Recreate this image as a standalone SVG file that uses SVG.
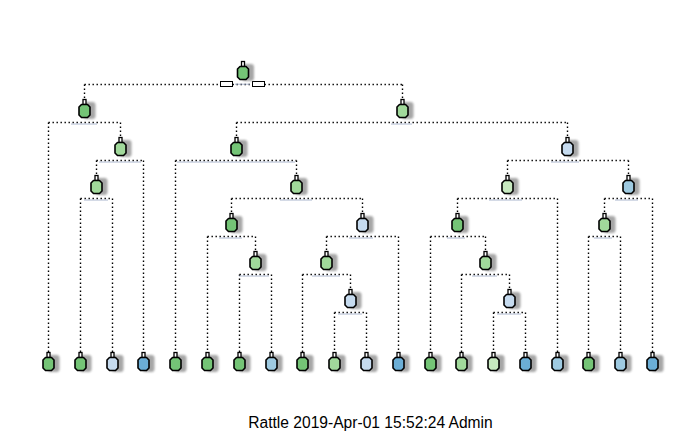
<svg xmlns="http://www.w3.org/2000/svg" xmlns:xlink="http://www.w3.org/1999/xlink" width="700" height="432" viewBox="0 0 700 432">
<style>
.edge{fill:none;stroke:#000;stroke-width:1.4;stroke-dasharray:1.4 2.6}
.g1{fill:#74C476}.g2{fill:#A1D99B}.g3{fill:#C7E9C0}
.b1{fill:#6BAED6}.b2{fill:#9ECAE1}.b3{fill:#C6DBEF}
.lbl{fill:#9aa6c4;opacity:.6}
.box{fill:#fff;stroke:#000;stroke-width:1}
.cap{font-family:"Liberation Sans",Arial,sans-serif;font-size:15.6px;fill:#000}
</style>
<defs>
<filter id="blur" x="-50%" y="-50%" width="200%" height="200%"><feGaussianBlur stdDeviation="1.3"/></filter>
<g id="node">
<rect x="-1" y="3" width="12" height="17" rx="3" fill="#777" opacity=".65" filter="url(#blur)"/>
<rect x="-1.5" y="0.5" width="3" height="5" fill="#fff" stroke="#000" stroke-width="1.3"/>
<path d="M-3 5.5H3L5.5 8V16L3 18.5H-3L-5.5 16V8Z" stroke="#000" stroke-width="1.6" stroke-linejoin="round"/>
</g>
</defs>
<rect width="700" height="432" fill="#fff"/>
<g id="connectors">
<path class="edge" d="M84.5 84.5H402.5M84.5 84.5V99M402.5 84.5V99"/>
<path class="edge" d="M48.5 122.5H120.5M48.5 122.5V352M120.5 122.5V137"/>
<path class="edge" d="M96.5 160.5H143.5M96.5 160.5V175M143.5 160.5V352"/>
<path class="edge" d="M80.5 198.5H112.5M80.5 198.5V352M112.5 198.5V352"/>
<path class="edge" d="M236.5 122.5H567.5M236.5 122.5V137M567.5 122.5V137"/>
<path class="edge" d="M175.5 160.5H296.5M175.5 160.5V352M296.5 160.5V175"/>
<path class="edge" d="M231.5 198.5H362.5M231.5 198.5V213M362.5 198.5V213"/>
<path class="edge" d="M207.5 236.5H255.5M207.5 236.5V352M255.5 236.5V251"/>
<path class="edge" d="M239.5 274.5H271.5M239.5 274.5V352M271.5 274.5V352"/>
<path class="edge" d="M326.5 236.5H398.5M326.5 236.5V251M398.5 236.5V352"/>
<path class="edge" d="M302.5 274.5H350.5M302.5 274.5V352M350.5 274.5V289"/>
<path class="edge" d="M334.5 312.5H366.5M334.5 312.5V352M366.5 312.5V352"/>
<path class="edge" d="M507.5 160.5H628.5M507.5 160.5V175M628.5 160.5V175"/>
<path class="edge" d="M457.5 198.5H557.5M457.5 198.5V213M557.5 198.5V352"/>
<path class="edge" d="M430.5 236.5H485.5M430.5 236.5V352M485.5 236.5V251"/>
<path class="edge" d="M461.5 274.5H509.5M461.5 274.5V352M509.5 274.5V289"/>
<path class="edge" d="M493.5 312.5H525.5M493.5 312.5V352M525.5 312.5V352"/>
<path class="edge" d="M604.5 198.5H652.5M604.5 198.5V213M652.5 198.5V352"/>
<path class="edge" d="M588.5 236.5H620.5M588.5 236.5V352M620.5 236.5V352"/>
<rect class="box" x="220.5" y="81.5" width="12" height="5"/>
<rect class="box" x="252.5" y="81.5" width="12" height="5"/>
<g id="split-labels">
<rect class="lbl" x="235" y="83.6" width="15" height="1.3"/>
<rect class="lbl" x="71" y="123.4" width="26" height="1.3"/>
<rect class="lbl" x="391" y="123.4" width="21" height="1.3"/>
<rect class="lbl" x="99" y="161.4" width="42" height="1.3"/>
<rect class="lbl" x="177" y="161.4" width="118" height="1.3"/>
<rect class="lbl" x="551" y="161.4" width="28" height="1.3"/>
<rect class="lbl" x="84" y="199.4" width="24" height="1.3"/>
<rect class="lbl" x="280" y="199.4" width="32" height="1.3"/>
<rect class="lbl" x="489" y="199.4" width="33" height="1.3"/>
<rect class="lbl" x="615" y="199.4" width="23" height="1.3"/>
<rect class="lbl" x="219" y="237.4" width="23" height="1.3"/>
<rect class="lbl" x="349" y="237.4" width="24" height="1.3"/>
<rect class="lbl" x="447" y="237.4" width="18" height="1.3"/>
<rect class="lbl" x="594" y="237.4" width="18" height="1.3"/>
<rect class="lbl" x="239" y="275.4" width="30" height="1.3"/>
<rect class="lbl" x="312" y="275.4" width="28" height="1.3"/>
<rect class="lbl" x="472" y="275.4" width="25" height="1.3"/>
<rect class="lbl" x="338" y="313.4" width="24" height="1.3"/>
<rect class="lbl" x="497" y="313.4" width="24" height="1.3"/>
</g>
</g>
<g id="n-root"><use xlink:href="#node" href="#node" class="g1" transform="translate(243,61)"/></g>
<g id="n-A"><use xlink:href="#node" href="#node" class="g1" transform="translate(84.5,99)"/></g>
<g id="n-B"><use xlink:href="#node" href="#node" class="g2" transform="translate(402.5,99)"/></g>
<g id="n-C"><use xlink:href="#node" href="#node" class="g2" transform="translate(120.5,137)"/></g>
<g id="n-D"><use xlink:href="#node" href="#node" class="g2" transform="translate(96.5,175)"/></g>
<g id="n-E"><use xlink:href="#node" href="#node" class="g1" transform="translate(236.5,137)"/></g>
<g id="n-F"><use xlink:href="#node" href="#node" class="b3" transform="translate(567.5,137)"/></g>
<g id="n-G"><use xlink:href="#node" href="#node" class="g2" transform="translate(296.5,175)"/></g>
<g id="n-H"><use xlink:href="#node" href="#node" class="g1" transform="translate(231.5,213)"/></g>
<g id="n-I"><use xlink:href="#node" href="#node" class="b3" transform="translate(362.5,213)"/></g>
<g id="n-J"><use xlink:href="#node" href="#node" class="g2" transform="translate(255.5,251)"/></g>
<g id="n-K"><use xlink:href="#node" href="#node" class="g2" transform="translate(326.5,251)"/></g>
<g id="n-L"><use xlink:href="#node" href="#node" class="b3" transform="translate(350.5,289)"/></g>
<g id="n-M"><use xlink:href="#node" href="#node" class="g3" transform="translate(507.5,175)"/></g>
<g id="n-N"><use xlink:href="#node" href="#node" class="b2" transform="translate(628.5,175)"/></g>
<g id="n-O"><use xlink:href="#node" href="#node" class="g1" transform="translate(457.5,213)"/></g>
<g id="n-P"><use xlink:href="#node" href="#node" class="g2" transform="translate(485.5,251)"/></g>
<g id="n-Q"><use xlink:href="#node" href="#node" class="b3" transform="translate(509.5,289)"/></g>
<g id="n-R"><use xlink:href="#node" href="#node" class="g2" transform="translate(604.5,213)"/></g>
<g id="leaf-1"><use xlink:href="#node" href="#node" class="g1" transform="translate(48.5,352)"/></g>
<g id="leaf-2"><use xlink:href="#node" href="#node" class="g1" transform="translate(80.5,352)"/></g>
<g id="leaf-3"><use xlink:href="#node" href="#node" class="b3" transform="translate(112.5,352)"/></g>
<g id="leaf-4"><use xlink:href="#node" href="#node" class="b1" transform="translate(143.5,352)"/></g>
<g id="leaf-5"><use xlink:href="#node" href="#node" class="g1" transform="translate(175.5,352)"/></g>
<g id="leaf-6"><use xlink:href="#node" href="#node" class="g1" transform="translate(207.5,352)"/></g>
<g id="leaf-7"><use xlink:href="#node" href="#node" class="g1" transform="translate(239.5,352)"/></g>
<g id="leaf-8"><use xlink:href="#node" href="#node" class="b2" transform="translate(271.5,352)"/></g>
<g id="leaf-9"><use xlink:href="#node" href="#node" class="g1" transform="translate(302.5,352)"/></g>
<g id="leaf-10"><use xlink:href="#node" href="#node" class="g2" transform="translate(334.5,352)"/></g>
<g id="leaf-11"><use xlink:href="#node" href="#node" class="b3" transform="translate(366.5,352)"/></g>
<g id="leaf-12"><use xlink:href="#node" href="#node" class="b1" transform="translate(398.5,352)"/></g>
<g id="leaf-13"><use xlink:href="#node" href="#node" class="g1" transform="translate(430.5,352)"/></g>
<g id="leaf-14"><use xlink:href="#node" href="#node" class="g2" transform="translate(461.5,352)"/></g>
<g id="leaf-15"><use xlink:href="#node" href="#node" class="g3" transform="translate(493.5,352)"/></g>
<g id="leaf-16"><use xlink:href="#node" href="#node" class="b1" transform="translate(525.5,352)"/></g>
<g id="leaf-17"><use xlink:href="#node" href="#node" class="b2" transform="translate(557.5,352)"/></g>
<g id="leaf-18"><use xlink:href="#node" href="#node" class="g1" transform="translate(588.5,352)"/></g>
<g id="leaf-19"><use xlink:href="#node" href="#node" class="b2" transform="translate(620.5,352)"/></g>
<g id="leaf-20"><use xlink:href="#node" href="#node" class="b1" transform="translate(652.5,352)"/></g>
<text class="cap" x="370.5" y="428" text-anchor="middle">Rattle 2019-Apr-01 15:52:24 Admin</text>
</svg>
